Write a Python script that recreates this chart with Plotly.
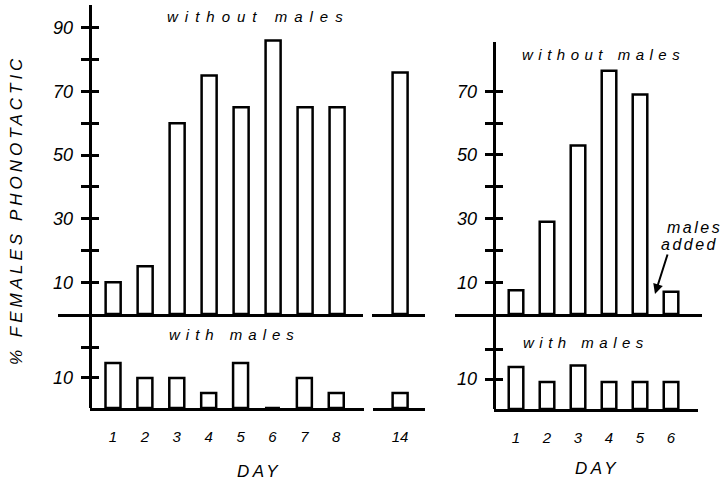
import plotly.graph_objects as go

W, H = 727, 482

# ---------------- data ----------------
days_left = [1, 2, 3, 4, 5, 6, 7, 8]
left_without_males = [10, 15, 60, 75, 65, 86, 65, 65]
left_with_males = [15, 10, 10, 5, 15, 0, 10, 5]
day_late = [14]
late_without_males = [76]
late_with_males = [5]
days_right = [1, 2, 3, 4, 5, 6]
right_without_males = [7.5, 29, 53, 76.5, 69, 7]
right_with_males = [14, 9, 14.5, 9, 9, 9]

left_top_ticks = [10, 20, 30, 40, 50, 60, 70, 80, 90]
left_top_labels = ["10", "", "30", "", "50", "", "70", "", "90"]
right_top_ticks = [10, 20, 30, 40, 50, 60, 70]
right_top_labels = ["10", "", "30", "", "50", "", "70"]
bottom_ticks = [10, 20]
bottom_labels = ["10", ""]
left_day_labels = ["1", "2", "3", "4", "5", "6", "7", "8"]
late_day_labels = ["14"]
right_day_labels = ["1", "2", "3", "4", "5", "6"]


def fx(p):
    return p / W


def fy(p):
    return 1 - p / H


FONT = "Liberation Sans, Arial, sans-serif"
LW = 3
BAR_LW = 2.5
BAR_W = 0.47
LABEL_GAP = 17

fig = go.Figure()


def bars(x, y, xa, ya):
    fig.add_trace(go.Bar(x=x, y=y, xaxis=xa, yaxis=ya, width=BAR_W,
                         marker=dict(color="white", line=dict(color="black", width=BAR_LW)),
                         hoverinfo="skip", showlegend=False))


def dummy(xa, ya):
    fig.add_trace(go.Scatter(x=[], y=[], xaxis=xa, yaxis=ya, showlegend=False, hoverinfo="skip"))


bars(days_left, left_without_males, "x", "y")
bars(days_left, left_with_males, "x2", "y2")
bars(day_late, late_without_males, "x3", "y")
bars(day_late, late_with_males, "x4", "y2")
bars(days_right, right_without_males, "x5", "y5")
bars(days_right, right_with_males, "x6", "y6")
for xa, ya in [("x", "y7"), ("x2", "y8"), ("x5", "y9"), ("x6", "y10"),
               ("x", "y11"), ("x2", "y12"), ("x5", "y13"), ("x6", "y14")]:
    dummy(xa, ya)

tickfont = dict(family=FONT, size=18, color="black", style="italic")
xtickfont = dict(family=FONT, size=15, color="black", style="italic")


def xaxis(d0, d1, rng, anchor, vals=None, labels=None):
    a = dict(domain=[fx(d0), fx(d1)], range=rng, anchor=anchor, showline=True,
             linecolor="black", linewidth=LW, showgrid=False, zeroline=False,
             ticks="", fixedrange=True)
    if vals is None:
        a.update(showticklabels=False)
    else:
        a.update(tickmode="array", tickvals=vals, ticktext=labels, tickfont=xtickfont,
                 ticklabelstandoff=13)
    return a


def yaxis(top, bot, rng, pos, vals, labels, kind="main", overlay=None):
    a = dict(range=rng, anchor="free", showgrid=False, zeroline=False,
             tickmode="array", tickvals=vals, tickcolor="black", tickwidth=LW, ticklen=8,
             fixedrange=True)
    if kind == "main":
        a.update(domain=[fy(bot), fy(top)], position=fx(pos), showline=True,
                 linecolor="black", linewidth=LW, ticks="outside", showticklabels=False)
    elif kind == "inside":
        a.update(overlaying=overlay, position=fx(pos), showline=False, ticks="inside",
                 showticklabels=False)
    else:  # labels only
        a.update(overlaying=overlay, position=fx(pos - LABEL_GAP), showline=False, ticks="",
                 ticktext=labels, tickfont=tickfont)
    return a


LT = [0, 97.2]
LB = [0, 31.3]
RT = [0, 85.5]
RB = [0, 31.7]

fig.update_layout(
    width=W, height=H, margin=dict(l=0, r=0, t=0, b=0),
    paper_bgcolor="white", plot_bgcolor="rgba(0,0,0,0)", bargap=0,
    xaxis=xaxis(58, 363, [-0.724, 8.81], "y"),
    xaxis2=xaxis(90, 364, [0.279, 8.87], "y2", days_left, left_day_labels),
    xaxis3=xaxis(372, 425, [13.12, 14.78], "y"),
    xaxis4=xaxis(373, 425, [13.15, 14.78], "y2", day_late, late_day_labels),
    xaxis5=xaxis(455, 702, [-0.968, 7.0], "y5"),
    xaxis6=xaxis(494, 698, [0.29, 6.87], "y6", days_right, right_day_labels),
    yaxis=yaxis(5, 314, LT, 90, left_top_ticks, None),
    yaxis2=yaxis(314, 408, LB, 90, bottom_ticks, None),
    yaxis5=yaxis(42, 314, RT, 494, right_top_ticks, None),
    yaxis6=yaxis(314, 409, RB, 494, bottom_ticks, None),
    yaxis7=yaxis(5, 314, LT, 90, left_top_ticks, None, "inside", "y"),
    yaxis8=yaxis(314, 408, LB, 90, bottom_ticks, None, "inside", "y2"),
    yaxis9=yaxis(42, 314, RT, 494, right_top_ticks, None, "inside", "y5"),
    yaxis10=yaxis(314, 409, RB, 494, bottom_ticks, None, "inside", "y6"),
    yaxis11=yaxis(5, 314, LT, 90, left_top_ticks, left_top_labels, "labels", "y"),
    yaxis12=yaxis(314, 408, LB, 90, bottom_ticks, bottom_labels, "labels", "y2"),
    yaxis13=yaxis(42, 314, RT, 494, right_top_ticks, right_top_labels, "labels", "y5"),
    yaxis14=yaxis(314, 409, RB, 494, bottom_ticks, bottom_labels, "labels", "y6"),
)


def label(text, x, y, size=15, spacing=0, angle=0, xanchor="center", align="center"):
    if spacing:
        text = f'<span style="letter-spacing:{spacing}px">{text}</span>'
    fig.add_annotation(text=text, x=fx(x), y=fy(y), xref="paper", yref="paper",
                       showarrow=False, textangle=angle, xanchor=xanchor, yanchor="middle",
                       align=align,
                       font=dict(family=FONT, size=size, color="black", style="italic"))


label("without males", 258, 17, 15, 7)
label("without males", 603, 54, 15, 5.5)
label("with males", 234, 334, 15, 6)
label("with males", 586, 342, 15, 5.5)
label("DAY", 259, 471, 17, 3.5)
label("DAY", 597, 468, 17, 3.5)
label("% FEMALES PHONOTACTIC", 16, 210, 17, 4, angle=-90)
label("males", 694, 227, 16, 2.5)
label("added", 689, 244, 16, 2.5)

fig.add_annotation(x=fx(655), y=fy(294), xref="paper", yref="paper", text="",
                   showarrow=True, arrowhead=2, arrowsize=1, arrowwidth=2, arrowcolor="black",
                   ax=13, ay=-41)

fig.write_html("out.html", config={"displayModeBar": False, "staticPlot": True},
               post_script="document.body.style.margin='0';")
